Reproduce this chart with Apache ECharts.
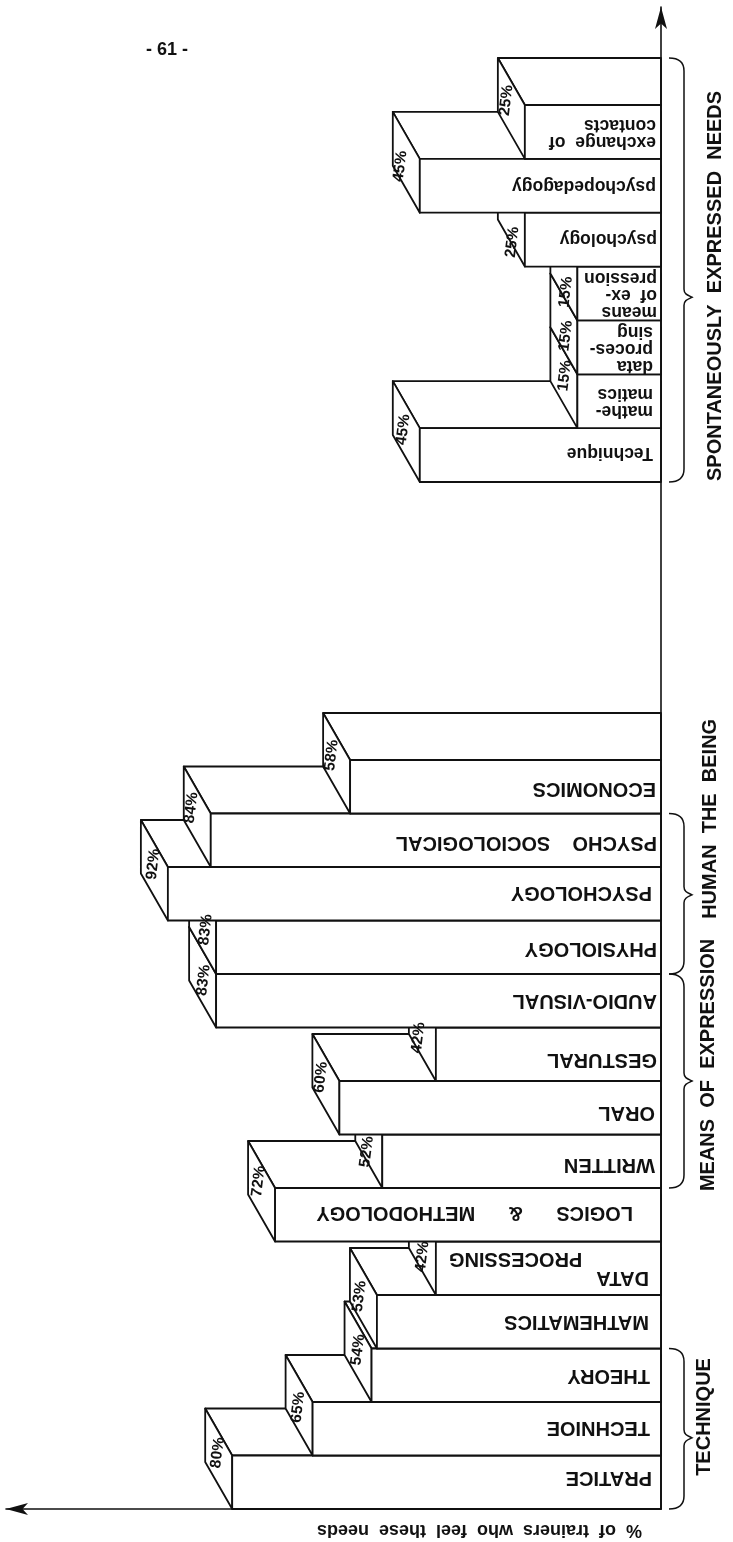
<!DOCTYPE html>
<html>
<head>
<meta charset="utf-8">
<style>
  html, body { margin: 0; padding: 0; background: #fff; }
  #chart { width: 733px; height: 1542px; }
</style>
<script src="https://cdn.jsdelivr.net/npm/echarts@6/dist/echarts.min.js"></script>
</head>
<body>
<div id="chart"></div>
<script>
// Survey topics, bottom to top of the page
const surveyTopics = [
  "PRATICE", "TECHNIOE", "THEORY", "MATHEMATICS", "DATA\n            PROCESSING",
  "LOGICS      &      METHODOLOGY", "WRITTEN", "ORAL", "GESTURAL", "AUDIO-VISUAL",
  "PHYSIOLOGY", "PSYCHOLOGY", "PSYCHO    SOCIOLOGICAL", "ECONOMICS"
];
const surveyValues = [80, 65, 54, 53, 42, 72, 52, 60, 42, 83, 83, 92, 84, 58];
const surveyLabels = ["80%", "65%", "54%", "53%", "42%", "72%", "52%", "60%", "42%", "83%", "83%", "92%", "84%", "58%"];

const spontaneousTopics = [
  "Technique", "mathe-\nmatics", "data\nproces-\nsing", "means\nof  ex-\npression",
  "psychology", "psychopedagogy", "exchange  of\ncontacts"
];
const spontaneousValues = [45, 15.6, 15.6, 15.6, 25.4, 45, 25.4];
const spontaneousLabels = ["45%", "15%", "15%", "15%", "25%", "45%", "25%"];

const surveyBrackets = ["TECHNIQUE", "MEANS  OF  EXPRESSION", "HUMAN  THE  BEING"];
const spontaneousBrackets = ["SPONTANEOUSLY  EXPRESSED  NEEDS"];

// Layout tweaks, the scan is not regular
const INK = "#111";
const FONT = '"Liberation Sans", Arial, sans-serif';
const DEPTH_X = 27;
const DEPTH_Y = 47;
const surveyInset = [9, 11, 11, 12, 12, 28, 6, 6, 4, 4, 4, 9, 4, 5];
const surveyNudge = [-5, -1, 0, 0, 0, -2, 3, 5, 5, 0, 1, -1, 2, 2];
const spontaneousInset = [8, 8, 8, 4, 4, 5, 5];
const spontaneousNudge = [-2, 1, 1, 1, -1, 0, 1];
const surveyPctShift = [[-1, -6], [-1, 2], [0, -2], [-4, -2], [0, 12], [-3, -10], [-2, 14], [-5, -7], [-4, 7], [1, 3], [3, 6], [-1, -6], [-6, -9], [-5, -8]];
const spontaneousPctShift = [[-3, -2], [1, -2], [2, 12], [2, 22], [1, 26], [-6, 4], [-5, -8]];

function renderBars(topics, labels, inset, nudge, pctShift, fontSize, lineHeight) {
  return function (params, api) {
    const i = params.dataIndex;
    const end = api.coord([api.value(0), api.value(1)]);
    const base = api.coord([0, api.value(1)]);
    const band = api.size([0, 1])[1];
    const x = end[0];
    const x0 = base[0];
    const top = end[1] - band / 2;
    const bottom = end[1] + band / 2;
    const lineStyle = { fill: "#fff", stroke: INK, lineWidth: 1.8, lineJoin: "round" };
    const face = (points) => ({ type: "polygon", shape: { points }, style: lineStyle });
    return {
      type: "group",
      children: [
        face([[x, top], [x - DEPTH_X, top - DEPTH_Y], [x0, top - DEPTH_Y], [x0, top]]),
        face([[x, top], [x - DEPTH_X, top - DEPTH_Y], [x - DEPTH_X, bottom - DEPTH_Y], [x, bottom]]),
        face([[x, top], [x0, top], [x0, bottom], [x, bottom]]),
        {
          type: "text",
          x: x0 - inset[i],
          y: (top + bottom) / 2 + nudge[i],
          rotation: Math.PI,
          z2: 50,
          style: {
            text: topics[i],
            fill: INK,
            font: `bold ${fontSize}px ${FONT}`,
            align: "left",
            verticalAlign: "middle",
            lineHeight
          }
        },
        {
          type: "text",
          x: x - DEPTH_X / 2 + pctShift[i][0],
          y: (top + bottom) / 2 - DEPTH_Y / 2 + pctShift[i][1],
          rotation: Math.PI * 0.46,
          z2: 60,
          style: {
            text: labels[i],
            fill: INK,
            font: `bold 15.5px ${FONT}`,
            align: "center",
            verticalAlign: "middle"
          }
        }
      ]
    };
  };
}

// data row: first category, last category, category of the tip, category of the label
function renderBrackets(names, labelX, backExtra) {
  return function (params, api) {
    const i = params.dataIndex;
    const band = api.size([0, 1])[1];
    const zero = api.coord([0, 0]);
    const ax = zero[0];
    // api.coord rounds on a category axis, so fractions go through the band size
    const catY = (v) => zero[1] - v * band;
    const y1 = catY(api.value(0)) + band / 2;
    const y0 = catY(api.value(1)) - band / 2 - backExtra;
    const m = catY(api.value(2));
    const s = ax + 8, st = ax + 23, tip = ax + 31;
    const d = `M${s} ${y0} C${s + 9} ${y0} ${st} ${y0 + 3} ${st} ${y0 + 13} L${st} ${m - 8} ` +
      `C${st} ${m - 3} ${tip - 4} ${m - 2} ${tip} ${m} C${tip - 4} ${m + 2} ${st} ${m + 3} ${st} ${m + 8} ` +
      `L${st} ${y1 - 13} C${st} ${y1 - 3} ${s + 9} ${y1} ${s} ${y1}`;
    return {
      type: "group",
      children: [
        { type: "path", shape: { pathData: d }, style: { fill: "none", stroke: INK, lineWidth: 1.5 } },
        {
          type: "text",
          x: ax + labelX[i],
          y: catY(api.value(3)),
          rotation: Math.PI / 2,
          style: {
            text: names[i],
            fill: INK,
            font: `bold 20px ${FONT}`,
            align: "center",
            verticalAlign: "middle"
          }
        }
      ]
    };
  };
}

const hiddenX = (gridIndex) => ({ gridIndex, type: "value", inverse: true, min: 0, max: 100, show: false });
const hiddenY = (gridIndex, data) => ({ gridIndex, type: "category", data, show: false });

const chart = echarts.init(document.getElementById("chart"), null, { renderer: "canvas" });
chart.setOption({
  animation: false,
  backgroundColor: "#fff",
  grid: [
    { left: 125, right: 72, top: 760, height: 749 },
    { left: 125, right: 72, top: 105, height: 377 },
    { left: 6, right: 72, top: 7, bottom: 33 }
  ],
  xAxis: [
    hiddenX(0),
    hiddenX(1),
    {
      gridIndex: 2, type: "value", inverse: true, min: 0, max: 100, z: 6,
      axisTick: { show: false }, axisLabel: { show: false }, splitLine: { show: false },
      axisLine: { show: true, symbol: ["arrow", "none"], symbolSize: [9, 22], lineStyle: { color: INK, width: 1.6 } }
    }
  ],
  yAxis: [
    hiddenY(0, surveyTopics),
    hiddenY(1, spontaneousTopics),
    {
      gridIndex: 2, type: "value", min: 0, max: 100, position: "right", z: 6,
      axisTick: { show: false }, axisLabel: { show: false }, splitLine: { show: false },
      axisLine: { show: true, onZero: false, symbol: ["none", "arrow"], symbolSize: [9, 22], lineStyle: { color: INK, width: 1.6 } }
    }
  ],
  series: [
    {
      type: "custom", xAxisIndex: 0, yAxisIndex: 0, encode: { x: 0, y: 1 },
      data: surveyValues.map((v, i) => [v, i]),
      renderItem: renderBars(surveyTopics, surveyLabels, surveyInset, surveyNudge, surveyPctShift, 20, 19)
    },
    {
      type: "custom", xAxisIndex: 1, yAxisIndex: 1, encode: { x: 0, y: 1 },
      data: spontaneousValues.map((v, i) => [v, i]),
      renderItem: renderBars(spontaneousTopics, spontaneousLabels, spontaneousInset, spontaneousNudge, spontaneousPctShift, 17.5, 17)
    },
    {
      type: "custom", xAxisIndex: 0, yAxisIndex: 0,
      data: [[0, 2, 0.83, 1.22], [6, 9, 7.5, 7.8], [10, 12, 10.98, 12.4]],
      renderItem: renderBrackets(surveyBrackets, [43, 47, 49], 0)
    },
    {
      type: "custom", xAxisIndex: 1, yAxisIndex: 1,
      data: [[0, 6, 2.93, 3.14]],
      renderItem: renderBrackets(spontaneousBrackets, [54], DEPTH_Y)
    }
  ],
  graphic: [
    {
      type: "text", x: 642, y: 1530, rotation: Math.PI,
      style: { text: "%  of  trainers  who  feel  these  needs", fill: INK, font: `bold 18px ${FONT}`, align: "left", verticalAlign: "middle" }
    },
    {
      type: "text", x: 167, y: 50,
      style: { text: "- 61 -", fill: INK, font: `bold 18px ${FONT}`, align: "center", verticalAlign: "middle" }
    }
  ]
});
</script>
</body>
</html>
